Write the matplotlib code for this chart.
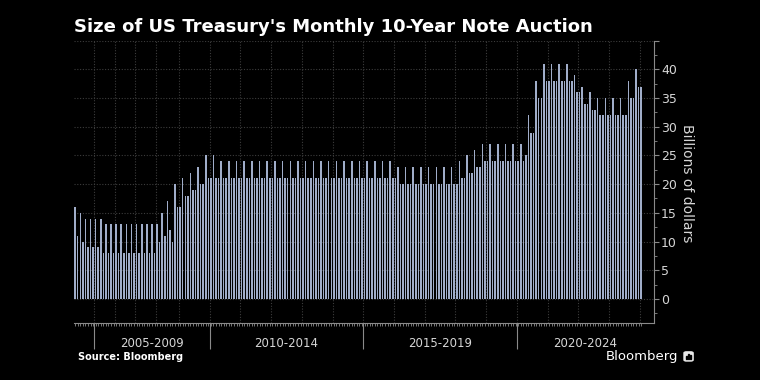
import numpy as np
import matplotlib.pyplot as plt
from matplotlib.patches import FancyBboxPatch, Rectangle

# auctions per calendar year (8 a year until 2008, monthly after)
years = list(range(2004, 2025))
bars_per_year = [8, 8, 8, 8, 9, 12, 12, 12, 12, 12, 12, 12, 12, 12, 12, 12,
                 12, 12, 12, 12, 1]

# auction size, billions of dollars, one value per auction
auction_size = [
    16, 11, 15, 10, 14, 9, 14, 9,                       # 2004
    14, 9, 14, 8, 13, 8, 13, 8,                         # 2005
    13, 8, 13, 8, 13, 8, 13, 8,                         # 2006
    13, 8, 13, 8, 13, 8, 13, 8,                         # 2007
    13, 10, 15, 11, 17, 12, 10, 20, 16,                 # 2008
    16, 21, 18, 18, 22, 19, 19, 23, 20, 20, 25, 21,     # 2009
    21, 25, 21, 21, 24, 21, 21, 24, 21, 21, 24, 21,     # 2010
    21, 24, 21, 21, 24, 21, 21, 24, 21, 21, 24, 21,     # 2011
    21, 24, 21, 21, 24, 21, 21, 24, 21, 21, 24, 21,     # 2012
    21, 24, 21, 21, 24, 21, 21, 24, 21, 21, 24, 21,     # 2013
    21, 24, 21, 21, 24, 21, 21, 24, 21, 21, 24, 21,     # 2014
    21, 24, 21, 21, 24, 21, 21, 24, 21, 21, 24, 21,     # 2015
    21, 23, 20, 20, 23, 20, 20, 23, 20, 20, 23, 20,     # 2016
    20, 23, 20, 20, 23, 20, 20, 23, 20, 20, 23, 20,     # 2017
    20, 24, 21, 21, 25, 22, 22, 26, 23, 23, 27, 24,     # 2018
    24, 27, 24, 24, 27, 24, 24, 27, 24, 24, 27, 24,     # 2019
    24, 27, 24, 25, 32, 29, 29, 38, 35, 35, 41, 38,     # 2020
    38, 41, 38, 38, 41, 38, 38, 41, 38, 38, 39, 36,     # 2021
    36, 37, 34, 34, 36, 33, 33, 35, 32, 32, 35, 32,     # 2022
    32, 35, 32, 32, 35, 32, 32, 38, 35, 35, 40, 37,     # 2023
    37,                                                 # 2024
]

period_labels = ['2005-2009', '2010-2014', '2015-2019', '2020-2024']
period_starts = [2005, 2010, 2015, 2020]
y_ticks = [0, 5, 10, 15, 20, 25, 30, 35, 40, 45]

BG = '#000000'
BAR = '#a0adc9'
GRID = '#3c3c3c'
AXIS = '#8a8a8a'
TXT = '#d6d6d6'

fig = plt.figure(figsize=(7.6, 3.8), dpi=100, facecolor=BG)
ax = fig.add_axes([0.0972, 0.15, 0.7633, 0.7429], facecolor=BG)

x = np.arange(len(auction_size))
ax.bar(x, auction_size, width=0.6, color=BAR, linewidth=0, zorder=2)

x_max = len(auction_size) + 4
ax.set_xlim(-0.5, x_max)
ax.set_ylim(-4.2, 45)

# year boundaries -> dotted vertical grid
year_start = np.concatenate([[0], np.cumsum(bars_per_year)[:-1]])
edge = dict(zip(years, year_start - 0.5))
for yr in years[1:]:
    ax.axvline(edge[yr], color=GRID, lw=0.8, ls=(0, (1, 1.5)), zorder=1)
for v in y_ticks:
    ax.axhline(v, color=GRID, lw=0.8, ls=(0, (1, 1.5)), zorder=1)

# x axis: long ticks between 5-year groups, small tick per auction
ax.set_xticks([edge[p] for p in period_starts])
ax.set_xticklabels([])
ax.set_xticks(x, minor=True)
ax.tick_params(axis='x', which='major', length=19, width=0.8, color=AXIS,
               direction='out')
ax.tick_params(axis='x', which='minor', length=2, width=0.6, color=AXIS,
               direction='out')

bounds = [edge[p] for p in period_starts] + [x_max]
for i, lab in enumerate(period_labels):
    ax.text((bounds[i] + bounds[i + 1]) / 2, -0.072, lab,
            transform=ax.get_xaxis_transform(), ha='center', va='center',
            color=TXT, fontsize=8.5)

# right y axis
ax.yaxis.tick_right()
ax.set_yticks(y_ticks)
ax.set_yticklabels([str(v) if v <= 40 else '' for v in y_ticks])
ax.set_yticks(np.arange(-2.5, 45, 2.5), minor=True)
ax.tick_params(axis='y', which='major', length=3.5, width=0.8, color=AXIS,
               labelcolor=TXT, labelsize=9, pad=1.5)
ax.tick_params(axis='y', which='minor', length=2, width=0.6, color=AXIS)

for side in ['left', 'top']:
    ax.spines[side].set_visible(False)
for side in ['bottom', 'right']:
    ax.spines[side].set_color(AXIS)
    ax.spines[side].set_linewidth(0.8)

fig.text(0.904, 0.518, 'Billions of dollars', rotation=270, ha='center',
         va='center', color=TXT, fontsize=10)

fig.text(0.097, 0.929, "Size of US Treasury's Monthly 10-Year Note Auction",
         ha='left', va='center', color='white', fontsize=13,
         fontweight='bold')
fig.text(0.103, 0.061, 'Source: Bloomberg', ha='left', va='center',
         color='white', fontsize=7, fontweight='bold')
fig.text(0.892, 0.063, 'Bloomberg', ha='right', va='center', color='white',
         fontsize=9.5)

# little logo box
fig.patches.append(FancyBboxPatch((0.900, 0.050), 0.012, 0.024,
                                  boxstyle='round,pad=0,rounding_size=0.003',
                                  transform=fig.transFigure, color='#e8e8e8'))
for bx, bh in [(0.9030, 0.008), (0.9055, 0.013), (0.9080, 0.010)]:
    fig.patches.append(Rectangle((bx, 0.056), 0.0014, bh,
                                 transform=fig.transFigure, color=BG))

plt.savefig('out.png', dpi=100, facecolor=BG)
